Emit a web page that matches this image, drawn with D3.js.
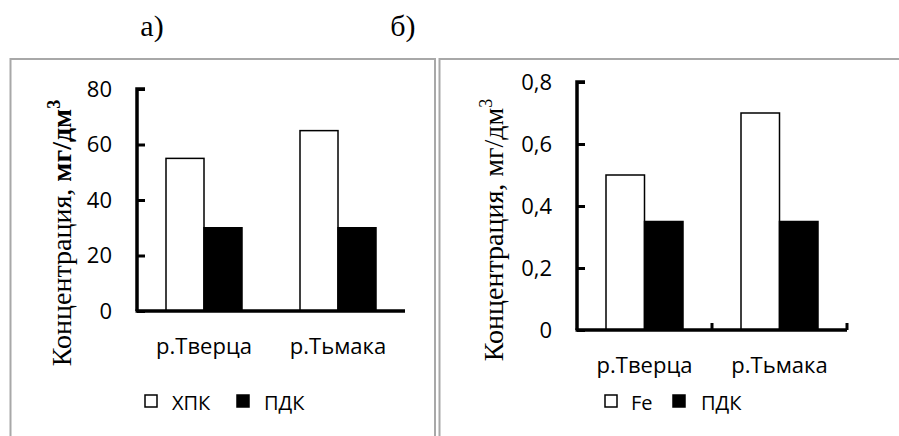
<!DOCTYPE html>
<html><head><meta charset="utf-8">
<script src="https://cdn.jsdelivr.net/npm/d3@7/dist/d3.min.js"></script>
<style>body{margin:0;background:#fff}svg{display:block}</style>
</head><body>
<script>
const categories = ["р.Тверца", "р.Тьмака"];
const seriesA = ["ХПК", "ПДК"];
const valuesA_XPK = [55, 65];
const valuesA_PDK = [30, 30];
const ticksA = [0, 20, 40, 60, 80];
const seriesB = ["Fe", "ПДК"];
const valuesB_Fe = [0.5, 0.7];
const valuesB_PDK = [0.35, 0.35];
const ticksB = [0, 0.2, 0.4, 0.6, 0.8];
const panelTitles = ["а)", "б)"];
const yTitle = "Концентрация, ";
const yUnit = "мг/дм";

const W = 899, H = 436;
const svg = d3.select("body").append("svg").attr("width", W).attr("height", H);

// frames
svg.append("rect").attr("x", 10.5).attr("y", 59).attr("width", 424.5).attr("height", 400)
  .attr("fill", "none").attr("stroke", "#a8a8a8").attr("stroke-width", 2);
svg.append("rect").attr("x", 439.5).attr("y", 59).attr("width", 480).attr("height", 400)
  .attr("fill", "none").attr("stroke", "#a8a8a8").attr("stroke-width", 2);

// panel titles
svg.append("text").attr("x", 152).attr("y", 36).attr("text-anchor", "middle")
  .attr("font-family", "Liberation Serif").attr("font-size", 30).text(panelTitles[0]);
svg.append("text").attr("x", 403).attr("y", 36).attr("text-anchor", "middle")
  .attr("font-family", "Liberation Serif").attr("font-size", 30).text(panelTitles[1]);

function panel(o) {
  const g = svg.append("g");
  const x = d3.scaleBand().domain(o.cats).range([o.x0, o.x1]).padding(0);
  const inner = d3.scaleBand().domain([0, 1]).range([29, x.bandwidth() - 29]).padding(0);
  const y = d3.scaleLinear().domain([0, o.max]).range([o.y0, o.yTop]);
  const data = o.cats.map((c, i) => ({c, v: [o.s1[i], o.s2[i]]}));
  const fills = ["#fff", "#000"];
  data.forEach(d => {
    d.v.forEach((v, k) => {
      g.append("rect")
        .attr("x", x(d.c) + inner(k)).attr("width", inner.bandwidth())
        .attr("y", y(v)).attr("height", y(0) - y(v))
        .attr("fill", fills[k]).attr("stroke", "#000").attr("stroke-width", 1.5);
    });
  });
  // y axis
  const ya = d3.axisRight(y).tickValues(o.ticks).tickSize(8).tickFormat("");
  const yg = g.append("g").attr("transform", `translate(${o.x0},0)`).call(ya);
  yg.select(".domain").attr("stroke-width", 3.5).attr("d", `M8,${o.yTop}H0V${o.y0}`);
  yg.selectAll(".tick line").attr("stroke-width", 3);
  // tick labels
  g.selectAll(".tl").data(o.ticks).enter().append("text")
    .attr("x", o.x0 - 25).attr("y", d => y(d)).attr("dy", "0.36em")
    .attr("text-anchor", "end").attr("font-family", "Open Sans").attr("font-size", 22)
    .text(d => o.fmt(d));
  // x axis
  g.append("line").attr("x1", o.x0 - 1.5).attr("x2", o.x1).attr("y1", o.y0).attr("y2", o.y0)
    .attr("stroke", "#000").attr("stroke-width", 3.5);
  if (o.xticks) {
    [o.x0 + x.bandwidth(), o.x1].forEach(t => {
      g.append("line").attr("x1", t).attr("x2", t).attr("y1", o.y0 - 7).attr("y2", o.y0)
        .attr("stroke", "#000").attr("stroke-width", 3);
    });
  }
  // category labels
  o.cats.forEach(c => {
    g.append("text").attr("x", x(c) + x.bandwidth() / 2).attr("y", o.catY)
      .attr("text-anchor", "middle").attr("font-family", "Open Sans").attr("font-size", 22)
      .text(c);
  });
  // y title
  const t = g.append("text").attr("transform", `translate(${o.tx},${o.ty}) rotate(-90)`)
    .attr("text-anchor", "middle").attr("font-family", "Liberation Serif").attr("font-size", 28);
  t.append("tspan").text(yTitle);
  t.append("tspan").attr("font-weight", o.boldUnit ? "bold" : "normal").text(yUnit);
  t.append("tspan").attr("font-size", 18).attr("dy", -11).attr("font-weight", o.boldUnit ? "bold" : "normal").text("3");
  // legend
  o.leg.forEach((l, k) => {
    g.append("rect").attr("x", l.sx).attr("y", 395).attr("width", 12).attr("height", 12)
      .attr("fill", fills[k]).attr("stroke", "#000").attr("stroke-width", 1.5);
    g.append("text").attr("x", l.tx).attr("y", 410).attr("font-family", "Open Sans")
      .attr("font-size", 20).text(l.name);
  });
}

panel({cats: categories, s1: valuesA_XPK, s2: valuesA_PDK, ticks: ticksA, max: 80,
  x0: 137, x1: 405, y0: 311, yTop: 89, fmt: d => d, catY: 354, xticks: false,
  tx: 71, ty: 233, boldUnit: true,
  leg: [{sx: 145, tx: 172, name: seriesA[0]}, {sx: 237, tx: 264, name: seriesA[1]}]});

panel({cats: categories, s1: valuesB_Fe, s2: valuesB_PDK, ticks: ticksB, max: 0.8,
  x0: 577, x1: 847, y0: 330, yTop: 82, fmt: d => d === 0 ? "0" : d3.format(".1f")(d).replace(".", ","),
  catY: 373, xticks: true, tx: 503, ty: 230, boldUnit: false,
  leg: [{sx: 605, tx: 631, name: seriesB[0]}, {sx: 673, tx: 701, name: seriesB[1]}]});
</script>
</body></html>
